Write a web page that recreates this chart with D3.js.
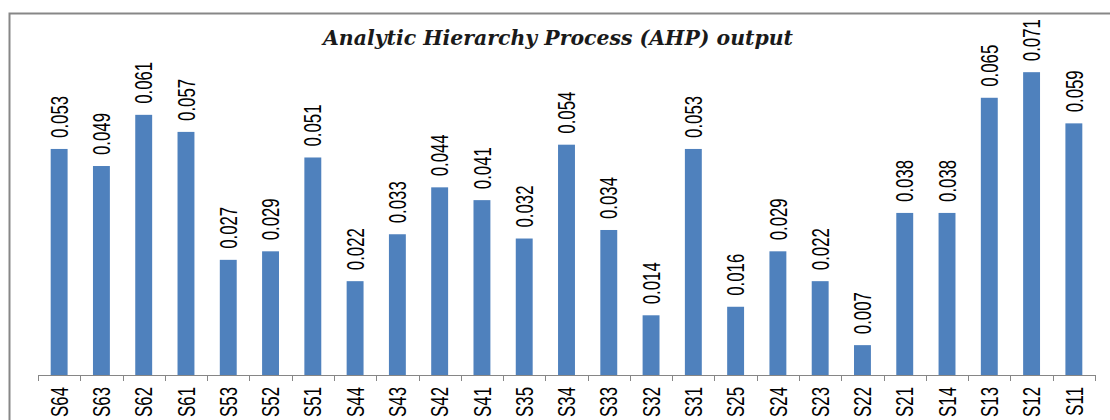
<!DOCTYPE html>
<html>
<head>
<meta charset="utf-8">
<script src="https://cdn.jsdelivr.net/npm/d3@7"></script>
<style>
  body { margin: 0; background: #fff; }
  svg { display: block; }
  .lbl { font-family: "Liberation Sans", Arial, sans-serif; font-size: 24px; fill: #000; }
  .title { font-family: "DejaVu Serif", "Liberation Serif", serif; font-weight: bold; font-style: italic; font-size: 20px; fill: #1a1a1a; }
</style>
</head>
<body>
<div id="chart"></div>
<script>
// categories and AHP weights
var categories = ["S64","S63","S62","S61","S53","S52","S51","S44","S43","S42","S41","S35","S34",
                  "S33","S32","S31","S25","S24","S23","S22","S21","S14","S13","S12","S11"];
var weights = [0.053,0.049,0.061,0.057,0.027,0.029,0.051,0.022,0.033,0.044,0.041,0.032,0.054,
               0.034,0.014,0.053,0.016,0.029,0.022,0.007,0.038,0.038,0.065,0.071,0.059];
var chartTitle = "Analytic Hierarchy Process (AHP) output";

var width = 1110, height = 420;
var left = 38, right = 1095, base = 375;
var narrow = 0.7; // squeeze Liberation Sans to look like the narrow original font

var svg = d3.select("#chart").append("svg")
    .attr("width", width)
    .attr("height", height);

// outer frame (only top and left edges are visible)
svg.append("path")
    .attr("d", "M9.5,420 V13.5 H1110")
    .attr("fill", "none")
    .attr("stroke", "#878787")
    .attr("stroke-width", 2);

var x = d3.scaleBand()
    .domain(categories)
    .range([left, right])
    .paddingInner(0.6)
    .paddingOuter(0.3);

var y = d3.scaleLinear()
    .domain([0, 0.08])
    .range([base, base - 0.08 * 4265]);

var tickX = d3.scaleLinear().domain([0, categories.length]).range([left, right]);

var data = categories.map(function(c, i){ return {name: c, value: weights[i]}; });

// bars
svg.append("g").selectAll("rect")
    .data(data)
    .enter().append("rect")
    .attr("x", function(d){ return x(d.name); })
    .attr("y", function(d){ return y(d.value); })
    .attr("width", x.bandwidth())
    .attr("height", function(d){ return base - y(d.value); })
    .attr("fill", "#4f81bd");

// value labels, rotated
svg.append("g").selectAll("text")
    .data(data)
    .enter().append("text")
    .attr("class", "lbl")
    .attr("transform", function(d){
        return "translate(" + (x(d.name) + x.bandwidth()/2) + "," + (y(d.value) - 11) + ") rotate(-90) scale(" + narrow + ",1)";
    })
    .attr("dy", "0.36em")
    .text(function(d){ return d3.format(".3f")(d.value); });

// category axis
var axis = svg.append("g");
axis.append("line")
    .attr("x1", left).attr("x2", right)
    .attr("y1", base + 0.5).attr("y2", base + 0.5)
    .attr("stroke", "#868686");
axis.selectAll("line.tick")
    .data(d3.range(categories.length + 1))
    .enter().append("line")
    .attr("class", "tick")
    .attr("x1", function(i){ return Math.round(tickX(i)) + 0.5; })
    .attr("x2", function(i){ return Math.round(tickX(i)) + 0.5; })
    .attr("y1", base).attr("y2", base + 6)
    .attr("stroke", "#868686");
axis.selectAll("text")
    .data(categories)
    .enter().append("text")
    .attr("class", "lbl")
    .attr("text-anchor", "end")
    .attr("transform", function(d){
        return "translate(" + (x(d) + x.bandwidth()/2) + "," + (base + 12) + ") rotate(-90) scale(" + narrow + ",1)";
    })
    .attr("dy", "0.36em")
    .text(function(d){ return d; });

// title
svg.append("text")
    .attr("class", "title")
    .attr("x", 558)
    .attr("y", 45)
    .attr("text-anchor", "middle")
    .attr("textLength", 470)
    .attr("lengthAdjust", "spacingAndGlyphs")
    .text(chartTitle);
</script>
</body>
</html>
